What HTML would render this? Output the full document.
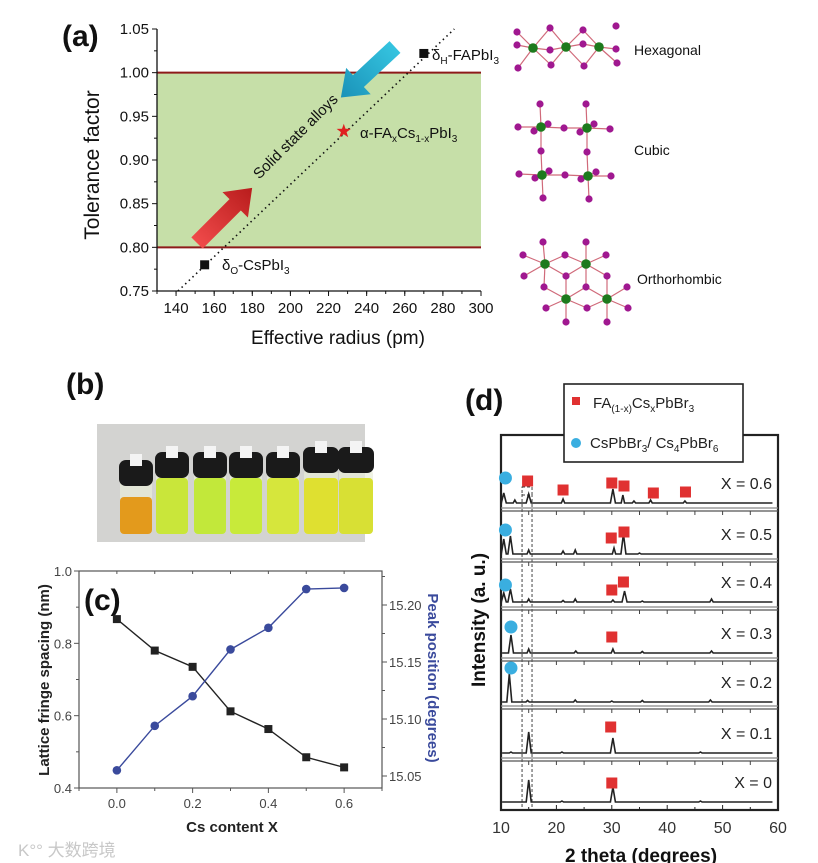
<!DOCTYPE html>
<html><head><meta charset="utf-8">
<style>
html,body{margin:0;padding:0;background:#fff;}
svg{display:block;font-family:"Liberation Sans","Noto Sans CJK SC",sans-serif;}
</style></head>
<body>
<svg id="fig" width="818" height="863" viewBox="0 0 818 863" xmlns="http://www.w3.org/2000/svg">
<defs>
<linearGradient id="gRed" x1="0" y1="0" x2="1" y2="0"><stop offset="0" stop-color="#f04a4a"/><stop offset="1" stop-color="#b81c1c"/></linearGradient>
<linearGradient id="gBlue" x1="0" y1="0" x2="1" y2="0"><stop offset="0" stop-color="#35c4e0"/><stop offset="1" stop-color="#1a92b8"/></linearGradient>
</defs>
<rect width="818" height="863" fill="#fff"/>
<g id="pa"></g>
<g id="pcr"></g>
<g id="pb"></g>
<g id="pc"></g>
<g id="pd"></g>
<text x="18" y="856" font-size="17" fill="#c8c8c8">K°° 大数跨境</text>
</svg>
<script>
// ---------- Panel A data ----------
const aXTicks = [140,160,180,200,220,240,260,280,300];
const aYTicks = [0.75,0.80,0.85,0.90,0.95,1.00,1.05];
const aBand = [0.80, 1.00];
const aPointsX = [155, 270];
const aPointsY = [0.78, 1.022];
const aStarX = [228];
const aStarY = [0.933];
const aLineX = [141, 286];
const aLineY = [0.75, 1.05];
// ---------- Panel C data ----------
const cX = [0.0,0.1,0.2,0.3,0.4,0.5,0.6];
const cSpacing = [0.867,0.780,0.735,0.612,0.563,0.485,0.457];
const cPeak = [15.055,15.094,15.120,15.161,15.180,15.214,15.215];
const cXTicks = [0.0,0.2,0.4,0.6];
const cYTicks = [0.4,0.6,0.8,1.0];
const cY2Ticks = [15.05,15.10,15.15,15.20];
// ---------- Panel D data ----------
const dLabels = ["X = 0.6","X = 0.5","X = 0.4","X = 0.3","X = 0.2","X = 0.1","X = 0"];
const dPeakPos = [
 [10.5,12.5,15.0,21.2,30.2,32.0,34.0,37.0,43.2],
 [10.5,11.7,15.0,21.2,23.4,30.4,32.1,35.0],
 [10.5,11.7,15.0,21.2,23.4,30.2,32.3,35.5,48.0],
 [11.8,15.0,23.5,30.2,35.5,48.0],
 [11.5,14.8,23.4,30.0,35.5,47.8],
 [11.8,15.0,21.0,30.2,46.0],
 [15.0,21.0,30.2,46.0]];
const dPeakH = [
 [10,3,9,4,14,8,2,3,2],
 [15,18,4,3,4,6,20,1],
 [9,13,3,1.5,3,2,11,1,3],
 [18,4,2,4,1.5,2],
 [28,1.5,2,1,1.5,2],
 [1,21,1,15,1],
 [22,1,15,1]];
const dSquares = [[14.8,21.2,30.0,32.2,37.5,43.3],[29.9,32.2],[30.0,32.1],[30.0],[],[29.8],[30.0]];
const dSquareH = [[22,13,20,17,10,11],[16,22],[12,20],[16],[],[26],[19]];
const dCircles = [[10.8],[10.8],[10.8],[11.8],[11.8],[],[]];
const dCircleH = [[25],[24],[17],[26],[34],[],[]];
const dXTicks = [10,20,30,40,50,60];

const NS="http://www.w3.org/2000/svg";
function mk(parent,tag,attrs,txt){const e=document.createElementNS(NS,tag);for(const k in attrs)e.setAttribute(k,attrs[k]);if(txt!==undefined)e.textContent=txt;parent.appendChild(e);return e;}

// ================= PANEL A =================
(function(){
 const g=document.getElementById('pa');
 const X0=157,X1=481,Y0=291,Y1=29;
 const sx=v=>X0+(v-130)/(300-130)*(X1-X0);
 const sy=v=>Y0-(v-0.75)/(1.05-0.75)*(Y0-Y1);
 let e=mk(g,'rect',{x:X0,y:sy(aBand[1]),width:X1-X0,height:sy(aBand[0])-sy(aBand[1]),fill:'#c6dfa8'});
 
 
 aBand.forEach(b=>{const l=mk(g,'line',{x1:X0,x2:X1,y1:sy(b),y2:sy(b),stroke:'#8e1a1a','stroke-width':2});
  
  });
 mk(g,'line',{x1:X0,y1:Y1,x2:X0,y2:Y0,stroke:'#111','stroke-width':1.3});
 mk(g,'line',{x1:X0,y1:Y0,x2:X1,y2:Y0,stroke:'#111','stroke-width':1.3});
 aXTicks.forEach(t=>{mk(g,'line',{x1:sx(t),x2:sx(t),y1:Y0,y2:Y0+5,stroke:'#111'});
  const tx=mk(g,'text',{x:sx(t),y:Y0+22,'font-size':15,'text-anchor':'middle',fill:'#111'},String(t));
  
  });
 for(let t=130;t<=300;t+=10){mk(g,'line',{x1:sx(t),x2:sx(t),y1:Y0,y2:Y0+3,stroke:'#111'});}
 aYTicks.forEach(t=>{mk(g,'line',{x1:X0-5,x2:X0,y1:sy(t),y2:sy(t),stroke:'#111'});
  const tx=mk(g,'text',{x:X0-8,y:sy(t)+5,'font-size':15,'text-anchor':'end',fill:'#111'},t.toFixed(2));
  
  });
 for(let t=0.775;t<1.05;t+=0.05){mk(g,'line',{x1:X0-3,x2:X0,y1:sy(t),y2:sy(t),stroke:'#111'});}
 e=mk(g,'text',{x:338,y:344,'font-size':19,'text-anchor':'middle',fill:'#111'},'Effective radius (pm)');
 
 e=mk(g,'text',{x:0,y:0,'font-size':21,'text-anchor':'middle',fill:'#111',transform:'translate(99,165) rotate(-90)'},'Tolerance factor');
 
 e=mk(g,'text',{x:62,y:46,'font-size':30,'font-weight':'bold',fill:'#111'},'(a)');
 
 e=mk(g,'line',{x1:sx(aLineX[0]),y1:sy(aLineY[0]),x2:sx(aLineX[1]),y2:sy(aLineY[1]),stroke:'#111','stroke-width':1.6,'stroke-dasharray':'1.5 3.5'});
 
 function arrow(x,y,ang,len,fill,name){const a=mk(g,'polygon',{points:`0,-8 ${len-24},-8 ${len-24},-18 ${len},0 ${len-24},18 ${len-24},8 0,8`,fill:fill,transform:`translate(${x},${y}) rotate(${ang})`});
  }
 arrow(197,243,-45,78,'url(#gRed)','red-arrow');
 arrow(395,47,137,74,'url(#gBlue)','blue-arrow');
 e=mk(g,'text',{x:0,y:0,'font-size':15,'text-anchor':'middle',fill:'#111',transform:'translate(299,140) rotate(-45)'},'Solid state alloys');
 
 aPointsX.forEach((v,i)=>{const r=mk(g,'rect',{x:sx(v)-4.5,y:sy(aPointsY[i])-4.5,width:9,height:9,fill:'#111'});
  });
 e=mk(g,'text',{x:222,y:270,'font-size':15,fill:'#111'});
 e.innerHTML='δ<tspan font-size="10" dy="4">O</tspan><tspan dy="-4">-CsPbI</tspan><tspan font-size="10" dy="4">3</tspan>';
 
 e=mk(g,'text',{x:432,y:60,'font-size':15,fill:'#111'});
 e.innerHTML='δ<tspan font-size="10" dy="4">H</tspan><tspan dy="-4">-FAPbI</tspan><tspan font-size="10" dy="4">3</tspan>';
 
 aStarX.forEach((v,i)=>{const cx=sx(v),cy=sy(aStarY[i]);let p=[];for(let k=0;k<10;k++){const r=k%2?3:7.5,an=-Math.PI/2+k*Math.PI/5;p.push((cx+r*Math.cos(an)).toFixed(1)+','+(cy+r*Math.sin(an)).toFixed(1));}
  const s=mk(g,'polygon',{points:p.join(' '),fill:'#e02020'});});
 e=mk(g,'text',{x:360,y:138,'font-size':15,fill:'#111'});
 e.innerHTML='α-FA<tspan font-size="10" dy="4">x</tspan><tspan dy="-4">Cs</tspan><tspan font-size="10" dy="4">1-x</tspan><tspan dy="-4">PbI</tspan><tspan font-size="10" dy="4">3</tspan>';
 
})();

// ================= CRYSTALS =================
(function(){
 const g=document.getElementById('pcr');
 const S=[
  {name:'hexagonal',label:'Hexagonal',lx:634,ly:55,
   gr:[[533,48],[566,47],[599,47]],
   pu:[[517,32],[550,28],[583,30],[616,26],[517,45],[550,50],[583,44],[616,49],[518,68],[551,65],[584,66],[617,63]]},
  {name:'cubic',label:'Cubic',lx:634,ly:155,
   gr:[[541,127],[587,128],[542,175],[588,176]],
   pu:[[540,104],[586,104],[518,127],[534,131],[548,124],[564,128],[580,132],[594,124],[610,129],[541,151],[587,152],[519,174],[535,178],[549,171],[565,175],[581,179],[596,172],[611,176],[543,198],[589,199]]},
  {name:'orthorhombic',label:'Orthorhombic',lx:637,ly:284,
   gr:[[545,264],[586,264],[566,299],[607,299]],
   pu:[[543,242],[586,242],[523,255],[565,255],[606,255],[524,276],[566,276],[607,276],[544,287],[586,287],[627,287],[546,308],[587,308],[628,308],[566,322],[607,322]]}];
 S.forEach(s=>{
  const sg=mk(g,'g',{});
  s.gr.forEach(a=>s.pu.forEach(b=>{const d=Math.hypot(a[0]-b[0],a[1]-b[1]);if(d<27)mk(sg,'line',{x1:a[0],y1:a[1],x2:b[0],y2:b[1],stroke:'#d06a7a','stroke-width':1.2});}));
  s.pu.forEach(b=>mk(sg,'circle',{cx:b[0],cy:b[1],r:3.6,fill:'#a01890'}));
  s.gr.forEach(a=>mk(sg,'circle',{cx:a[0],cy:a[1],r:4.8,fill:'#1d7a1d'}));
  const t=mk(g,'text',{x:s.lx,y:s.ly,'font-size':14,fill:'#111'},s.label);
  
 });
})();

// ================= PANEL B =================
(function(){
 const g=document.getElementById('pb');
 let e=mk(g,'text',{x:66,y:394,'font-size':30,'font-weight':'bold',fill:'#111'},'(b)');
 
 mk(g,'rect',{x:97,y:424,width:268,height:118,fill:'#d3d3d1'});
 const cols=['#e39a1c','#c9e63a','#c2e83a','#c8ea3a','#d6e63c','#dfe030','#d8e034'];
 const xs=[136,172,210,246,283,321,356];
 xs.forEach((x,i)=>{
  const vg=mk(g,'g',{});
  const w=i>4?34:32;
  mk(vg,'rect',{x:x-w/2,y:470,width:w,height:64,rx:4,fill:'#e8ecd8',opacity:0.7});
  mk(vg,'rect',{x:x-w/2,y:i==0?497:478,width:w,height:i==0?37:56,rx:4,fill:cols[i]});
  mk(vg,'rect',{x:x-w/2-1,y:452-(i>4?5:0)+ (i==0?8:0),width:w+2,height:26,rx:7,fill:'#1a1a1a'});
  mk(vg,'rect',{x:x-6,y:446-(i>4?5:0)+(i==0?8:0),width:12,height:12,fill:'#f4f4f4'});
 });
})();

// ================= PANEL C =================
(function(){
 const g=document.getElementById('pc');
 const X0=79,X1=382,Y0=788,Y1=571;
 const sx=v=>X0+(v+0.1)/0.8*(X1-X0);
 const sy=v=>Y0-(v-0.4)/0.6*(Y0-Y1);
 const sy2=v=>605+(15.20-v)/0.05*57;
 const ax='#555';
 mk(g,'rect',{x:X0,y:Y1,width:X1-X0,height:Y0-Y1,fill:'none',stroke:ax,'stroke-width':1.2});
 cXTicks.forEach(t=>{mk(g,'line',{x1:sx(t),x2:sx(t),y1:Y0,y2:Y0+5,stroke:ax});
  const tx=mk(g,'text',{x:sx(t),y:Y0+20,'font-size':13,'text-anchor':'middle',fill:'#444'},t.toFixed(1));
  });
 [0.1,0.3,0.5,0.7,-0.1].forEach(t=>mk(g,'line',{x1:sx(t),x2:sx(t),y1:Y0,y2:Y0+3,stroke:ax}));
 [0.1,0.3,0.5,0.7,0.0,0.2,0.4,0.6].forEach(t=>mk(g,'line',{x1:sx(t),x2:sx(t),y1:Y1,y2:Y1+3,stroke:ax}));
 cYTicks.forEach(t=>{mk(g,'line',{x1:X0-5,x2:X0,y1:sy(t),y2:sy(t),stroke:ax});
  const tx=mk(g,'text',{x:X0-7,y:sy(t)+5,'font-size':13,'text-anchor':'end',fill:'#444'},t.toFixed(1));
  });
 [0.5,0.7,0.9].forEach(t=>mk(g,'line',{x1:X0-3,x2:X0,y1:sy(t),y2:sy(t),stroke:ax}));
 cY2Ticks.forEach(t=>{mk(g,'line',{x1:X1,x2:X1+5,y1:sy2(t),y2:sy2(t),stroke:ax});
  const tx=mk(g,'text',{x:X1+7,y:sy2(t)+5,'font-size':13,fill:'#444'},t.toFixed(2));
  });
 [15.075,15.125,15.175,15.225].forEach(t=>mk(g,'line',{x1:X1,x2:X1+3,y1:sy2(t),y2:sy2(t),stroke:ax}));
 let e=mk(g,'text',{x:232,y:832,'font-size':15,'font-weight':'bold','text-anchor':'middle',fill:'#222'},'Cs content X');
 
 e=mk(g,'text',{x:0,y:0,'font-size':15,'font-weight':'bold','text-anchor':'middle',fill:'#222',transform:'translate(49,680) rotate(-90)'},'Lattice fringe spacing (nm)');
 
 e=mk(g,'text',{x:0,y:0,'font-size':15,'font-weight':'bold','text-anchor':'middle',fill:'#3a4a9c',transform:'translate(428,678) rotate(90)'},'Peak position (degrees)');
 
 e=mk(g,'text',{x:84,y:610,'font-size':30,'font-weight':'bold',fill:'#111'},'(c)');
 
 e=mk(g,'polyline',{points:cX.map((x,i)=>sx(x)+','+sy(cSpacing[i])).join(' '),fill:'none',stroke:'#222','stroke-width':1.4});
 
 e=mk(g,'polyline',{points:cX.map((x,i)=>sx(x)+','+sy2(cPeak[i])).join(' '),fill:'none',stroke:'#3a4a9c','stroke-width':1.4});
 
 cX.forEach((x,i)=>{const r=mk(g,'rect',{x:sx(x)-4,y:sy(cSpacing[i])-4,width:8,height:8,fill:'#222'});
  
  const c=mk(g,'circle',{cx:sx(x),cy:sy2(cPeak[i]),r:4.3,fill:'#3a4a9c'});
  });
})();

// ================= PANEL D =================
(function(){
 const g=document.getElementById('pd');
 const X0=501,X1=778,YT=435,YB=810;
 const sx=v=>X0+(v-10)/50*(X1-X0);
 const bases=[503,554,602,653,702,753,802];
 const seps=[508,559,607,658,706,758];
 mk(g,'rect',{x:X0,y:YT,width:X1-X0,height:YB-YT,fill:'none',stroke:'#222','stroke-width':2.2});
 [13.8,15.6].forEach(v=>{const l=mk(g,'line',{x1:sx(v),x2:sx(v),y1:494,y2:808,stroke:'#444','stroke-width':1,'stroke-dasharray':'3 2'});
  });
 mk(g,'rect',{x:sx(13.8),y:487,width:sx(15.6)-sx(13.8),height:8,fill:'none',stroke:'#444','stroke-dasharray':'3 2'});
 seps.forEach(y=>{const s=mk(g,'g',{});
  mk(s,'line',{x1:X0,x2:X1,y1:y,y2:y,stroke:'#888','stroke-width':1.2});
  mk(s,'line',{x1:X0,x2:X1,y1:y+3,y2:y+3,stroke:'#555','stroke-width':1.2});
  for(let t=15;t<60;t+=5)mk(s,'line',{x1:sx(t),x2:sx(t),y1:y+3,y2:y+7,stroke:'#444'});});
 dLabels.forEach((lab,i)=>{
  const sg=mk(g,'g',{});
  const base=bases[i];
  const idx=dPeakPos[i].map((p,k)=>k).sort((a,b)=>dPeakPos[i][a]-dPeakPos[i][b]);
  let pts=[sx(10.2)+','+base];
  idx.forEach(k=>{const p=dPeakPos[i][k],h=dPeakH[i][k],w=h>8?0.45:0.3;
   pts.push(sx(p-w)+','+base,sx(p)+','+(base-h),sx(p+w)+','+base);});
  pts.push(sx(59)+','+base);
  const pl=mk(sg,'polyline',{points:pts.join(' '),fill:'none',stroke:'#222','stroke-width':1.6});
  
  dSquares[i].forEach((p,k)=>{const r=mk(sg,'rect',{x:sx(p)-5.5,y:base-dSquareH[i][k]-5.5,width:11,height:11,fill:'#e03131'});
   });
  dCircles[i].forEach((p,k)=>{const c=mk(sg,'circle',{cx:sx(p),cy:base-dCircleH[i][k],r:6.5,fill:'#3aaee0'});
   });
  const t=mk(sg,'text',{x:772,y:base-14,'font-size':16,'text-anchor':'end',fill:'#222'},lab);
  
 });
 dXTicks.forEach(t=>{mk(g,'line',{x1:sx(t),x2:sx(t),y1:YB,y2:YB-5,stroke:'#222'});
  const tx=mk(g,'text',{x:sx(t),y:833,'font-size':16,'text-anchor':'middle',fill:'#333'},String(t));
  });
 for(let t=15;t<60;t+=10)mk(g,'line',{x1:sx(t),x2:sx(t),y1:YB,y2:YB-3,stroke:'#222'});
 let e=mk(g,'text',{x:641,y:862,'font-size':19,'font-weight':'bold','text-anchor':'middle',fill:'#111'},'2 theta (degrees)');
 
 e=mk(g,'text',{x:0,y:0,'font-size':19,'font-weight':'bold','text-anchor':'middle',fill:'#111',transform:'translate(485,620) rotate(-90)'},'Intensity (a. u.)');
 
 e=mk(g,'text',{x:465,y:410,'font-size':30,'font-weight':'bold',fill:'#111'},'(d)');
 
 const lg=mk(g,'g',{});
 mk(lg,'rect',{x:564,y:384,width:179,height:78,fill:'#fff',stroke:'#222','stroke-width':1.6});
 let r=mk(lg,'rect',{x:572,y:397,width:8,height:8,fill:'#e03131'});
 
 e=mk(lg,'text',{x:593,y:408,'font-size':15,fill:'#222'});
 e.innerHTML='FA<tspan font-size="10" dy="4">(1-x)</tspan><tspan dy="-4">Cs</tspan><tspan font-size="10" dy="4">x</tspan><tspan dy="-4">PbBr</tspan><tspan font-size="10" dy="4">3</tspan>';
 
 r=mk(lg,'circle',{cx:576,cy:443,r:5,fill:'#3aaee0'});
 
 e=mk(lg,'text',{x:590,y:448,'font-size':15,fill:'#222'});
 e.innerHTML='CsPbBr<tspan font-size="10" dy="4">3</tspan><tspan dy="-4">/ Cs</tspan><tspan font-size="10" dy="4">4</tspan><tspan dy="-4">PbBr</tspan><tspan font-size="10" dy="4">6</tspan>';
 
})();
</script>
</body></html>
